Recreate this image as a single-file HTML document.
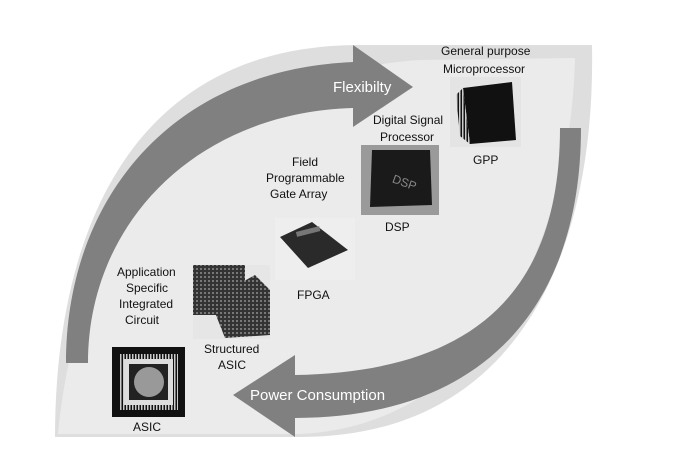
<!DOCTYPE html>
<html><head><meta charset="utf-8"><style>
html,body{margin:0;padding:0;background:#fff;width:688px;height:465px;overflow:hidden}
svg{display:block}
text{font-family:"Liberation Sans",Arial,sans-serif;font-size:12px;fill:#111}
.w{fill:#fff;font-size:15px}
</style></head><body>
<svg width="688" height="465" viewBox="0 0 688 465" xmlns="http://www.w3.org/2000/svg">
<defs>
<pattern id="pins" width="3" height="3" patternUnits="userSpaceOnUse"><rect width="3" height="3" fill="#111"/><rect width="1.5" height="3" fill="#ccc"/></pattern>
<pattern id="grid" width="4" height="4" patternUnits="userSpaceOnUse"><rect width="4" height="4" fill="#333"/><rect width="2" height="2" fill="#777"/></pattern>
</defs>
<!-- leaf -->
<path d="M55,437 C55,250 120,45 360,45 L592,45 C596,250 520,437 300,437 Z" fill="#dedede"/>
<path d="M58,434 C75,250 170,78 420,60 L575,58 C570,250 480,425 300,434 Z" fill="#ebebeb"/>
<!-- top arrow band -->
<path d="M66,363 C66,200 170,70 353,62 L353,45 L413,87 L353,127 L353,108 C200,112 88,220 88,363 Z" fill="#808080"/>
<!-- bottom arrow band -->
<path d="M560,128 L581,128 C581,310 480,418 295,418 L295,437 L233,395 L295,355 L295,375 C465,372 560,300 560,128 Z" fill="#808080"/>
<text class="w" x="333" y="92">Flexibilty</text>
<text class="w" x="250" y="400">Power Consumption</text>
<!-- GPP -->
<rect x="450" y="77" width="71" height="70" fill="#e4e4e4"/>
<path d="M463,88 L512,82 L516,140 L470,144 Z" fill="#111"/>
<path d="M456,95 L463,88 L470,144 L460,136 Z" fill="url(#pins)"/>
<text x="441" y="55">General purpose</text>
<text x="443" y="73">Microprocessor</text>
<text x="473" y="164">GPP</text>
<!-- DSP -->
<rect x="361" y="145" width="78" height="70" fill="#9a9a9a"/>
<path d="M372,150 L430,150 L432,205 L370,207 Z" fill="#1a1a1a"/>
<text x="392" y="185" font-size="9" fill="#888" style="fill:#888" transform="rotate(20 400 182)">DSP</text>
<text x="373" y="124">Digital Signal</text>
<text x="380" y="141">Processor</text>
<text x="385" y="231">DSP</text>
<!-- FPGA -->
<rect x="275" y="218" width="80" height="62" fill="#eeeeee"/>
<path d="M280,237 L312,222 L348,250 L308,268 Z" fill="#2a2a2a"/>
<rect x="296" y="229" width="24" height="5" fill="#777" transform="rotate(-14 308 231)"/>
<text x="292" y="166">Field</text>
<text x="266" y="182">Programmable</text>
<text x="270" y="198">Gate Array</text>
<text x="297" y="299">FPGA</text>
<!-- Structured ASIC -->
<rect x="193" y="265" width="77" height="74" fill="#e6e6e6"/>
<rect x="193" y="265" width="52" height="50" fill="url(#grid)"/>
<path d="M210,300 L255,275 L270,290 L270,335 L225,338 Z" fill="url(#grid)"/>
<text x="117" y="276">Application</text>
<text x="126" y="292">Specific</text>
<text x="119" y="308">Integrated</text>
<text x="125" y="324">Circuit</text>
<text x="204" y="353">Structured</text>
<text x="218" y="369">ASIC</text>
<!-- ASIC -->
<rect x="112" y="347" width="73" height="70" fill="#111"/>
<rect x="119" y="354" width="59" height="56" fill="url(#pins)"/>
<rect x="124" y="359" width="49" height="46" fill="#ddd"/>
<rect x="129" y="364" width="39" height="36" fill="#222"/>
<circle cx="149" cy="382" r="15" fill="#999"/>
<text x="133" y="431">ASIC</text>
</svg>
</body></html>
